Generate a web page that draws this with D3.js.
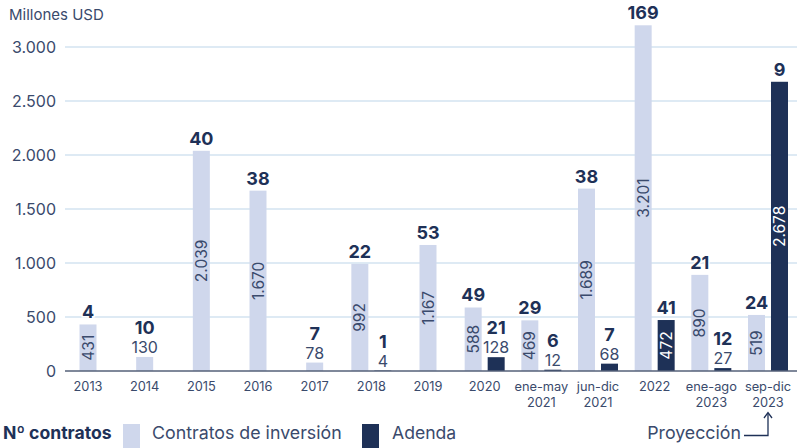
<!DOCTYPE html>
<html><head><meta charset="utf-8">
<script src="https://cdn.jsdelivr.net/npm/d3@7"></script>
<style>
html,body{margin:0;padding:0;background:#fff;}
svg{display:block;font-family:Inter,"Noto Sans",sans-serif;}
</style></head>
<body><svg id="c" width="797" height="448"></svg>
<script>
const categories = ["2013","2014","2015","2016","2017","2018","2019","2020","ene-may\n2021","jun-dic\n2021","2022","ene-ago\n2023","sep-dic\n2023"];
const inversion = [431,130,2039,1670,78,992,1167,588,469,1689,3201,890,519];
const inversionCount = [4,10,40,38,7,22,53,49,29,38,169,21,24];
const adenda = [null,null,null,null,null,4,null,128,12,68,472,27,2678];
const adendaCount = [null,null,null,null,null,1,null,21,6,7,41,12,9];
const yTicks = [0,500,1000,1500,2000,2500,3000];

const LIGHT = "#cfd7ec", DARK = "#1e3157", TXT = "#1e3157", TXT2 = "#3a4a6c";
const loc = d3.formatLocale({decimal:",", thousands:".", grouping:[3], currency:["",""]});
const fmt = loc.format(",d");

const svg = d3.select("#c");
const x = d3.scaleBand().domain(categories).range([59.67, 796.33]);
const y = d3.scaleLinear().domain([0,3000]).range([371,47]);
const sub = d3.scaleBand().domain(["inv","ad"]).range([-20,20]).paddingInner(6/23);
const bw = sub.bandwidth();

// grid
svg.append("g").selectAll("line").data(yTicks.filter(d=>d>0)).join("line")
  .attr("x1",65).attr("x2",797).attr("y1",d=>y(d)).attr("y2",d=>y(d))
  .attr("stroke","#d3e3f1").attr("stroke-width",1.5);

// y axis labels
const ya = svg.append("g").attr("transform","translate(56,0)")
  .call(d3.axisLeft(y).tickValues(yTicks).tickFormat(fmt).tickSize(0).tickPadding(0));
ya.select(".domain").remove();
ya.selectAll("text").attr("font-family","Inter,sans-serif").attr("font-size",16).attr("fill",TXT2);

svg.append("text").attr("x",9).attr("y",20).attr("font-size",15).attr("fill",TXT2).text("Millones USD");

// build items
const items = [];
categories.forEach((c,i)=>{
  const hasAd = adenda[i] != null;
  items.push({c, key:"inv", v:inversion[i], n:inversionCount[i], x: x(c)+x.bandwidth()/2 + (hasAd ? sub("inv") : -bw/2)});
  if (hasAd) items.push({c, key:"ad", v:adenda[i], n:adendaCount[i], x: x(c)+x.bandwidth()/2 + sub("ad")});
});

svg.append("g").selectAll("rect").data(items).join("rect")
  .attr("x",d=>d.x).attr("width",bw)
  .attr("y",d=>y(d.v)).attr("height",d=>y(0)-y(d.v))
  .attr("fill",d=>d.key==="inv"?LIGHT:DARK);

// axis baseline
svg.append("line").attr("x1",65).attr("x2",797).attr("y1",y(0)).attr("y2",y(0))
  .attr("stroke","#556179").attr("stroke-width",1.5);

// value labels
const big = items.filter(d=>d.v>=300), small = items.filter(d=>d.v<300);
svg.append("g").selectAll("text").data(big).join("text")
  .attr("transform",d=>`translate(${d.x+bw/2},${(y(d.v)+y(0))/2}) rotate(-90)`)
  .attr("text-anchor","middle").attr("dy","0.36em")
  .attr("font-size",15.5).attr("fill",d=>d.key==="inv"?TXT2:"#ffffff")
  .text(d=>fmt(d.v));
svg.append("g").selectAll("text").data(small).join("text")
  .attr("x",d=>d.x+bw/2).attr("y",d=>y(d.v)-4)
  .attr("text-anchor","middle").attr("font-size",16).attr("fill",TXT2)
  .text(d=>fmt(d.v));

// count labels
svg.append("g").selectAll("text").data(items).join("text")
  .attr("x",d=>d.x+bw/2)
  .attr("y",d=>d.v>=300 ? y(d.v)-6 : y(d.v)-4-19)
  .attr("text-anchor","middle").attr("font-size",18).attr("font-weight",700)
  .attr("fill",TXT).attr("stroke","#fff").attr("stroke-width",3).attr("paint-order","stroke")
  .text(d=>d.n);

// x axis labels
const xl = svg.append("g").selectAll("text").data(categories).join("text")
  .attr("x",d=>x(d)+x.bandwidth()/2).attr("y",391)
  .attr("text-anchor","middle").attr("font-size",12.8).attr("fill",TXT2);
xl.each(function(d){
  const parts = d.split("\n");
  d3.select(this).selectAll("tspan").data(parts).join("tspan")
    .attr("x",x(d)+x.bandwidth()/2).attr("dy",(p,j)=>j?15.5:0).text(p=>p);
});

// legend
const lg = svg.append("g");
lg.append("text").attr("x",3).attr("y",439).attr("font-size",17.6).attr("font-weight",700).attr("fill",TXT).text("Nº contratos");
lg.append("rect").attr("x",123).attr("y",424).attr("width",bw).attr("height",24).attr("fill",LIGHT);
lg.append("text").attr("x",152).attr("y",439).attr("font-size",17.8).attr("fill",TXT2).text("Contratos de inversión");
lg.append("rect").attr("x",362).attr("y",424).attr("width",bw).attr("height",24).attr("fill",DARK);
lg.append("text").attr("x",392).attr("y",439).attr("font-size",17.6).attr("fill",TXT2).text("Adenda");

// proyección annotation
const ax = x(categories[12])+x.bandwidth()/2;
lg.append("text").attr("x",741).attr("y",439).attr("text-anchor","end").attr("font-size",17.8).attr("fill",TXT2).text("Proyección");
lg.append("path").attr("d",`M744,435.5 H${ax} V413`).attr("fill","none").attr("stroke",TXT).attr("stroke-width",1.3);
lg.append("path").attr("d",`M${ax-4},418 L${ax},412.5 L${ax+4},418`).attr("fill","none").attr("stroke",TXT).attr("stroke-width",1.3);
</script></body></html>
